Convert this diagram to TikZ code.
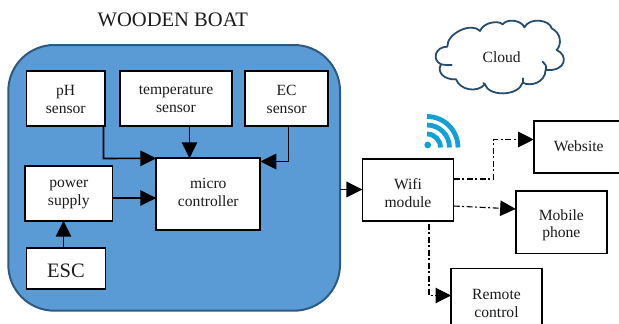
\documentclass[tikz,border=0pt]{standalone}
\usepackage{fontspec}
\setmainfont{Liberation Serif}
\usetikzlibrary{arrows.meta}
\definecolor{boatblue}{HTML}{5B9BD5}
\definecolor{boatedge}{HTML}{2F5A80}
\definecolor{cloudedge}{HTML}{264D6E}
\definecolor{wifiblue}{HTML}{12A0D7}
\definecolor{inkgrey}{HTML}{1C1C1C}
\tikzset{
  x=1pt,y=-1pt,
  block/.style={draw=black,fill=white,line width=1.7pt,inner sep=0pt,outer sep=0pt,align=center,
    text=inkgrey,font=\fontsize{15.6}{17.8}\selectfont,anchor=north west},
  link/.style={line width=1.6pt,draw=black,-{Triangle[length=16pt,width=15.5pt]}},
  dotlink/.style={line width=1.1pt,draw=black,dash pattern=on 6pt off 2.5pt on 2pt off 2.5pt,-{Triangle[length=15.5pt,width=15.5pt]}},
  wifiarc/.style={line width=4.8pt,draw=wifiblue},
  cloudline/.style={draw=cloudedge,line width=1.8pt,line cap=round,line join=round},
}
\newcommand{\dn}[2]{\raisebox{-#1pt}[\height][\depth]{#2}}
\begin{document}
\begin{tikzpicture}
\useasboundingbox (0,0) rectangle (619,324);
\clip (0,0) rectangle (619,324);
\node[text=inkgrey,font=\fontsize{20.6}{22}\selectfont] (title) at (172.8,20) {WOODEN BOAT};
\node[draw=boatedge,fill=boatblue,line width=2pt,rounded corners=46pt,anchor=north west,outer sep=0pt,
      minimum width=331.7pt,minimum height=265.7pt,inner sep=0pt] (boat) at (8.3,45) {};

\node[block,minimum width=78.6pt,minimum height=55pt] (ph) at (26.4,70.7) {\dn{1.2}{pH}\\\dn{1.2}{sensor}};
\node[block,minimum width=112pt,minimum height=55pt] (temp) at (120,70.7) {\dn{1.2}{temperature}\\\dn{1.2}{sensor}};
\node[block,minimum width=83.3pt,minimum height=55pt] (ec) at (245,70.7) {\dn{1.2}{EC}\\\dn{1.2}{sensor}};
\node[block,minimum width=87.6pt,minimum height=55pt] (power) at (25,165.7) {\dn{1.2}{power}\\\dn{1.2}{supply}};
\node[block,minimum width=79pt,minimum height=41.3pt,font=\fontsize{20.5}{22}\selectfont] (esc) at (26.4,248) {\dn{2}{ESC}};
\node[block,minimum width=104pt,minimum height=72pt] (micro) at (156.3,158.3) {\dn{-1.6}{micro}\\\dn{-1.6}{controller}};
\node[block,minimum width=91.2pt,minimum height=62pt] (wifi) at (362.4,159) {\dn{3}{Wifi}\\\dn{3}{module}};
\node[block,minimum width=90pt,minimum height=52pt] (web) at (533.7,121) {\dn{-1}{Website}};
\node[block,minimum width=91.3pt,minimum height=62.9pt] (mobile) at (515.7,190.7) {\dn{3}{Mobile}\\\dn{3}{phone}};
\node[block,minimum width=91pt,minimum height=68pt] (remote) at (451,268.4) {\dn{0.7}{Remote}\\\dn{0.7}{control}};

% connectors
\coordinate (pha) at (50,126);
\coordinate (phc) at (103.5,126);
\coordinate (phb) at (103.5,158.5);
\coordinate (tx) at (189.5,0);
\coordinate (ecb) at (288.5,161.5);
\coordinate (pwy) at (0,198);
\coordinate (ex) at (63.5,0);
\coordinate (boaty) at (0,189.5);
\coordinate (webb) at (493.5,179);
\coordinate (webt) at (493.5,139.5);
\coordinate (mob1) at (0,206);
\coordinate (mob2) at (0,209);
\coordinate (rema) at (406,220.5);
\coordinate (remc) at (429,220.5);
\coordinate (remb) at (429,295.5);
\draw[link] (pha) -- (phc) -- (phb) -- (micro.north west);
\draw[link] (temp.south -| tx) -- (micro.north -| tx);
\draw[link] (ec.south -| ecb) -- (ecb) -- (micro.east |- ecb);
\draw[link] (power.east |- pwy) -- (micro.west |- pwy);
\draw[link] (esc.north -| ex) -- (power.south -| ex);
\draw[link] (boat.east |- boaty) -- (wifi.west |- boaty);
\draw[dotlink] (wifi.east |- webb) -- (webb) -- (webt) -- (web.west |- webt);
\draw[dotlink] (wifi.east |- mob1) -- (mobile.west |- mob2);
\draw[dotlink] (rema) -- (remc) -- (remb) -- (remote.west |- remb);

% wifi symbol
\fill[wifiblue] (427.7,145) circle (3.4pt);
\draw[wifiarc] (427,134) arc[start angle=90,end angle=0,radius=13.5pt];
\draw[wifiarc] (427,125) arc[start angle=90,end angle=0,radius=22.5pt];
\draw[wifiarc] (427,116.5) arc[start angle=90,end angle=0,radius=31pt];

% cloud
\begin{scope}[shift={(430,15)},x=0.3333pt,y=-0.3333pt]
\draw[cloudline,fill=white]
  (52,95) .. controls (50,55) and (125,20) .. (150,48)
  .. controls (160,22) and (205,15) .. (218,28)
  .. controls (230,10) and (275,15) .. (283,37)
  .. controls (300,5) and (360,15) .. (365,40)
  .. controls (395,55) and (395,90) .. (380,105)
  .. controls (415,120) and (410,170) .. (347,165)
  .. controls (345,205) and (300,215) .. (278,203)
  .. controls (265,245) and (175,245) .. (165,208)
  .. controls (140,235) and (90,225) .. (78,193)
  .. controls (40,195) and (20,170) .. (33,148)
  .. controls (5,135) and (15,95) .. (52,95) -- cycle;
\draw[cloudline] (347,165) .. controls (352,155) and (345,145) .. (338,140);
\draw[cloudline] (278,203) -- (278,190);
\draw[cloudline] (165,208) -- (160,204);
\draw[cloudline] (33,148) .. controls (42,150) and (55,150) .. (65,150);
\end{scope}
\node[text=inkgrey,font=\fontsize{15.6}{18}\selectfont] (cloudlabel) at (501.7,57.5) {Cloud};
\end{tikzpicture}
\end{document}
